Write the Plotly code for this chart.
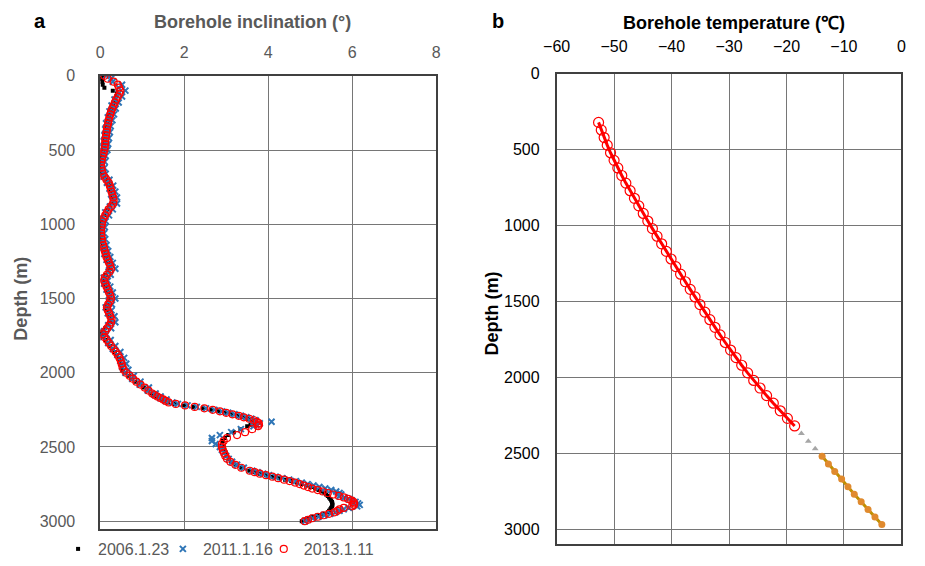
import plotly.graph_objects as go

# ---------------- Panel a: borehole inclination ----------------
depth_a = (list(range(0, 2140, 20)) + list(range(2140, 2360, 10))
           + list(range(2360, 2660, 20)) + list(range(2660, 3001, 10)))

incl_2006 = [
    0.05, 0.04, 0.05, 0.06, 0.10, 0.30, 0.40, 0.38, 0.35, 0.32,
    0.30, 0.27, 0.24, 0.22, 0.20, 0.18, 0.17, 0.16, 0.15, 0.14,
    0.13, 0.12, 0.11, 0.10, 0.09, 0.08, 0.06, 0.04, 0.02, 0.01,
    0.01, 0.01, 0.02, 0.04, 0.08, 0.13, 0.18, 0.21, 0.23, 0.25,
    0.27, 0.29, 0.30, 0.28, 0.23, 0.17, 0.13, 0.09, 0.05, 0.03,
    0.02, 0.01, 0.00, 0.01, 0.02, 0.03, 0.04, 0.06, 0.08, 0.10,
    0.12, 0.14, 0.16, 0.19, 0.22, 0.24, 0.20, 0.14, 0.09, 0.07,
    0.10, 0.13, 0.16, 0.19, 0.22, 0.24, 0.21, 0.17, 0.14, 0.16,
    0.19, 0.22, 0.25, 0.24, 0.19, 0.12, 0.05, 0.02, 0.06, 0.13,
    0.19, 0.24, 0.30, 0.35, 0.40, 0.44, 0.47, 0.49, 0.51, 0.54,
    0.60, 0.68, 0.76, 0.84, 0.94, 1.04, 1.13,
    1.22, 1.28, 1.34, 1.41, 1.48, 1.55, 1.62, 1.78, 2.00, 2.22, 2.45,
    2.65, 2.82, 2.97, 3.12, 3.27, 3.40, 3.52, 3.62, 3.68, 3.66, 3.58,
    3.50, 3.34, 3.18, 3.05, 2.97, 2.92, 2.90, 2.92, 2.95, 2.98, 3.02,
    3.06, 3.12, 3.22, 3.36,
    3.55, 3.68, 3.80, 3.95, 4.10, 4.25, 4.40, 4.55, 4.68, 4.80,
    4.92, 5.02, 5.12, 5.20, 5.28, 5.34, 5.38, 5.42, 5.45, 5.48,
    5.50, 5.52, 5.53, 5.53, 5.52, 5.50, 5.48, 5.45, 5.42, 5.30,
    5.18, 5.05, 4.95, 4.85, 4.80,
]

incl_2011 = [
    0.14, 0.26, 0.30, 0.52, 0.44, 0.60, 0.44, 0.52, 0.34, 0.44,
    0.27, 0.37, 0.22, 0.33, 0.18, 0.29, 0.14, 0.25, 0.12, 0.23,
    0.10, 0.21, 0.08, 0.19, 0.06, 0.17, 0.03, 0.13, 0.01, 0.11,
    0.00, 0.10, 0.01, 0.13, 0.07, 0.22, 0.16, 0.31, 0.22, 0.36,
    0.26, 0.40, 0.29, 0.40, 0.23, 0.30, 0.12, 0.21, 0.04, 0.13,
    0.01, 0.11, 0.00, 0.09, 0.01, 0.12, 0.02, 0.15, 0.05, 0.19,
    0.10, 0.24, 0.15, 0.30, 0.21, 0.36, 0.20, 0.25, 0.08, 0.18,
    0.09, 0.24, 0.15, 0.30, 0.21, 0.36, 0.21, 0.28, 0.13, 0.27,
    0.18, 0.34, 0.25, 0.36, 0.19, 0.26, 0.09, 0.15, 0.07, 0.25,
    0.19, 0.36, 0.30, 0.48, 0.41, 0.57, 0.48, 0.62, 0.52, 0.67,
    0.60, 0.80, 0.76, 0.96, 0.94, 1.16, 1.13,
    1.32, 1.30, 1.44, 1.43, 1.58, 1.56, 1.72, 1.85, 2.08, 2.30, 2.52,
    2.72, 2.90, 3.05, 3.20, 3.35, 3.48, 3.60, 3.70, 4.08, 3.80, 3.72,
    3.65, 3.35, 3.12, 2.85, 2.66, 2.66, 2.75, 2.85, 2.90, 2.95, 3.00,
    3.06, 3.14, 3.26, 3.42,
    3.62, 3.75, 3.88, 4.02, 4.18, 4.34, 4.50, 4.66, 4.80, 4.94,
    5.08, 5.22, 5.36, 5.50, 5.62, 5.70, 5.74, 5.70, 5.82, 5.92,
    6.00, 6.08, 6.14, 6.18, 6.12, 5.92, 5.80, 5.70, 5.60, 5.48,
    5.34, 5.20, 5.06, 4.95, 4.88,
]

incl_2013 = [
    0.10, 0.18, 0.32, 0.42, 0.45, 0.48, 0.46, 0.42, 0.38, 0.35,
    0.32, 0.29, 0.26, 0.24, 0.22, 0.20, 0.19, 0.17, 0.16, 0.15,
    0.14, 0.13, 0.12, 0.12, 0.11, 0.10, 0.08, 0.06, 0.04, 0.03,
    0.02, 0.03, 0.04, 0.06, 0.10, 0.15, 0.20, 0.23, 0.25, 0.27,
    0.29, 0.31, 0.32, 0.31, 0.26, 0.20, 0.16, 0.12, 0.08, 0.05,
    0.04, 0.03, 0.02, 0.02, 0.03, 0.04, 0.05, 0.07, 0.09, 0.11,
    0.13, 0.15, 0.18, 0.21, 0.24, 0.26, 0.22, 0.16, 0.11, 0.09,
    0.12, 0.15, 0.18, 0.21, 0.24, 0.26, 0.23, 0.19, 0.16, 0.18,
    0.21, 0.24, 0.27, 0.26, 0.22, 0.17, 0.12, 0.06, 0.10, 0.16,
    0.21, 0.26, 0.32, 0.37, 0.42, 0.46, 0.49, 0.51, 0.53, 0.56,
    0.62, 0.70, 0.78, 0.86, 0.96, 1.06, 1.15,
    1.24, 1.30, 1.36, 1.43, 1.50, 1.56, 1.63, 1.80, 2.02, 2.25, 2.48,
    2.68, 2.85, 3.00, 3.15, 3.30, 3.42, 3.55, 3.66, 3.73, 3.77, 3.78,
    3.76, 3.62, 3.45, 3.26, 3.02, 2.94, 2.90, 2.90, 2.92, 2.95, 2.98,
    3.02, 3.10, 3.22, 3.36,
    3.56, 3.68, 3.80, 3.95, 4.10, 4.24, 4.38, 4.51, 4.64, 4.75,
    4.85, 4.95, 5.05, 5.18, 5.30, 5.42, 5.55, 5.68, 5.80, 5.90,
    5.98, 6.03, 6.05, 6.04, 6.00, 5.80, 5.70, 5.65, 5.58, 5.45,
    5.32, 5.18, 5.05, 4.95, 4.87,
]

series_names = ["2006.1.23", "2011.1.16", "2013.1.11"]

# ---------------- Panel b: borehole temperature ----------------
depth_b_meas = [320, 370, 420, 470, 520, 570, 620, 670, 720, 770,
                820, 870, 920, 970, 1020, 1070, 1120, 1170, 1220, 1270,
                1320, 1370, 1420, 1470, 1520, 1570, 1620, 1670, 1720, 1770,
                1820, 1870, 1920, 1970, 2020, 2070, 2120, 2170, 2220, 2270,
                2320]
temp_b_meas = [-52.70, -52.23, -51.73, -51.19, -50.62, -50.00, -49.35, -48.66, -47.95, -47.21,
               -46.46, -45.70, -44.92, -44.13, -43.33, -42.53, -41.72, -40.90, -40.08, -39.26,
               -38.43, -37.59, -36.75, -35.91, -35.06, -34.20, -33.33, -32.45, -31.56, -30.65,
               -29.73, -28.78, -27.79, -26.76, -25.70, -24.60, -23.46, -22.29, -21.08, -19.84,
               -18.58]

depth_b_gap = [2370, 2420, 2470]
temp_b_gap = [-17.4, -16.2, -15.0]

depth_b_deep = [2520, 2570, 2620, 2670, 2720, 2770, 2820, 2870, 2920, 2970]
temp_b_deep = [-13.8, -12.7, -11.6, -10.4, -9.3, -8.2, -7.0, -5.8, -4.6, -3.4]

FONT = "Arial, Liberation Sans, sans-serif"
GRAY = "#595959"
W, H = 925, 566

fig = go.Figure()

fig.add_trace(go.Scatter(x=incl_2006, y=depth_a, mode="markers", name=series_names[0],
                         marker=dict(symbol="square", size=4, color="black"),
                         xaxis="x", yaxis="y", legend="legend"))
fig.add_trace(go.Scatter(x=incl_2011, y=depth_a, mode="markers", name=series_names[1],
                         marker=dict(symbol="x-thin", size=6, color="#2E75B6",
                                     line=dict(width=2, color="#2E75B6")),
                         xaxis="x", yaxis="y", legend="legend2"))
fig.add_trace(go.Scatter(x=incl_2013, y=depth_a, mode="markers", name=series_names[2],
                         marker=dict(symbol="circle-open", size=7, color="#FF0000",
                                     line=dict(width=1.2, color="#FF0000")),
                         xaxis="x", yaxis="y", legend="legend3"))

fig.add_trace(go.Scatter(x=temp_b_meas, y=depth_b_meas, mode="lines+markers", showlegend=False,
                         line=dict(color="#FF0000", width=3),
                         marker=dict(symbol="circle-open", size=10, color="#FF0000",
                                     line=dict(width=1.2, color="#FF0000")),
                         xaxis="x2", yaxis="y2"))
fig.add_trace(go.Scatter(x=temp_b_gap, y=depth_b_gap, mode="markers", showlegend=False,
                         marker=dict(symbol="triangle-up", size=6, color="#A6A6A6"),
                         xaxis="x2", yaxis="y2"))
fig.add_trace(go.Scatter(x=temp_b_deep, y=depth_b_deep, mode="lines+markers", showlegend=False,
                         line=dict(color="#BF9000", width=3),
                         marker=dict(symbol="circle", size=7, color="#E08A2E"),
                         xaxis="x2", yaxis="y2"))


def px_x(a, b):
    return [a / W, b / W]


def px_y(top, bottom):
    return [1 - bottom / H, 1 - top / H]


def legend_at(left_px):
    return dict(orientation="h", x=left_px / W, xanchor="left", y=1 - 551 / H, yanchor="middle",
                font=dict(size=16, color=GRAY), bgcolor="rgba(0,0,0,0)", itemwidth=30)


axis_common = dict(showgrid=True, gridcolor="#767676", gridwidth=1, zeroline=False,
                   showline=True, mirror=True, linewidth=1.5, ticks="")

fig.update_layout(
    width=W, height=H, margin=dict(l=0, r=0, t=0, b=0),
    paper_bgcolor="white", plot_bgcolor="white",
    font=dict(family=FONT),
    xaxis=dict(domain=px_x(88, 431), range=[0, 8], tickvals=[0, 2, 4, 6, 8], side="top",
               anchor="y", tickfont=dict(size=16, color=GRAY), linecolor="#404040",
               ticklabelstandoff=10, **axis_common),
    yaxis=dict(domain=px_y(69, 530), range=[3050, 0], tickvals=[0, 500, 1000, 1500, 2000, 2500, 3000],
               anchor="x", tickfont=dict(size=16, color=GRAY), linecolor="#404040",
               ticklabelstandoff=20, **axis_common),
    xaxis2=dict(domain=px_x(554, 906), range=[-60, 0], tickvals=[-60, -50, -40, -30, -20, -10, 0],
                side="top", anchor="y2", tickfont=dict(size=16, color="black"),
                linecolor="#404040", ticklabelstandoff=14, **axis_common),
    yaxis2=dict(domain=px_y(67, 546), range=[3100, 0], tickvals=[0, 500, 1000, 1500, 2000, 2500, 3000],
                anchor="x2", tickfont=dict(size=16, color="black"), linecolor="#404040",
                ticklabelstandoff=12, **axis_common),
    showlegend=True,
    legend=legend_at(45),
    legend2=legend_at(152),
    legend3=legend_at(255),
)

annotations = [
    dict(text="<b>a</b>", x=27 / W, y=1 - 13 / H, font=dict(size=20, color="black")),
    dict(text="<b>b</b>", x=494 / W, y=1 - 13 / H, font=dict(size=20, color="black")),
    dict(text="<b>Borehole inclination (°)</b>", x=244 / W, y=1 - 14 / H,
         font=dict(size=18, color=GRAY)),
    dict(text="<b>Borehole temperature (℃)</b>", x=735 / W, y=1 - 15 / H,
         font=dict(size=18, color="black")),
    dict(text="<b>Depth (m)</b>", x=7 / W, y=1 - 296 / H, textangle=-90,
         font=dict(size=18, color=GRAY)),
    dict(text="<b>Depth (m)</b>", x=488 / W, y=1 - 311 / H, textangle=-90,
         font=dict(size=18, color="black")),
]
for a in annotations:
    a.update(xref="paper", yref="paper", showarrow=False, xanchor="center", yanchor="middle")
fig.update_layout(annotations=annotations)

fig.write_html("out.html")
